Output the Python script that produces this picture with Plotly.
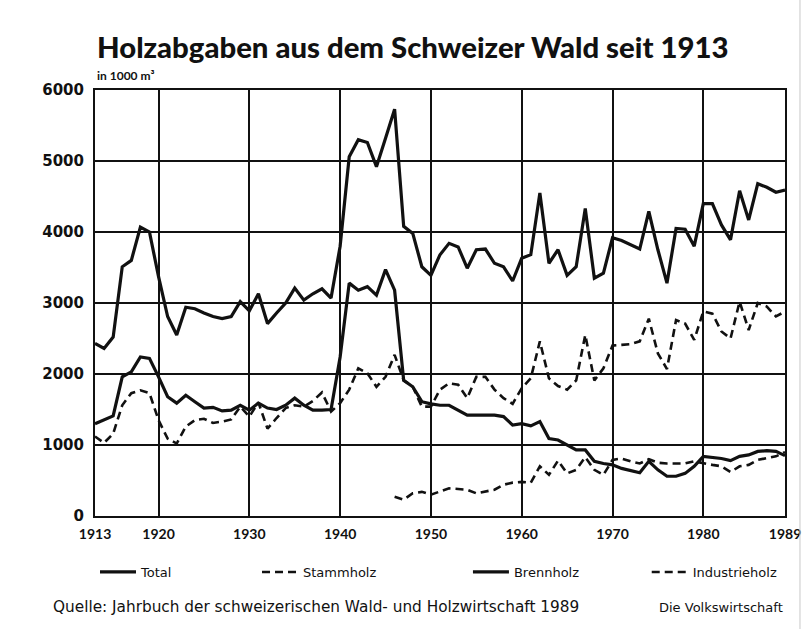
import plotly.graph_objects as go

years = list(range(1913, 1990))

total = [2430, 2360, 2520, 3510, 3600, 4070, 4000, 3370, 2810, 2550,
         2940, 2920, 2860, 2810, 2780, 2810, 3020, 2890, 3130, 2710,
         2860, 3000, 3210, 3040, 3130, 3200, 3070, 3800, 5060, 5300,
         5260, 4920, 5320, 5730, 4080, 3980, 3510, 3390, 3680, 3840,
         3790, 3490, 3750, 3760, 3560, 3510, 3310, 3630, 3680, 4550,
         3560, 3750, 3390, 3510, 4330, 3350, 3420, 3920, 3880, 3820,
         3760, 4290, 3750, 3280, 4050, 4040, 3800, 4400, 4400, 4100,
         3890, 4580, 4170, 4680, 4630, 4560, 4590]

stammholz = [1120, 1030, 1160, 1560, 1730, 1770, 1730, 1350, 1090, 1020,
             1260, 1350, 1370, 1310, 1330, 1360, 1540, 1400, 1600, 1230,
             1380, 1520, 1560, 1540, 1620, 1740, 1470, 1590, 1780, 2080,
             2010, 1820, 1960, 2270, 1910, 1820, 1540, 1540, 1780, 1870,
             1850, 1660, 1960, 1960, 1780, 1660, 1580, 1800, 1940, 2460,
             1940, 1830, 1780, 1910, 2550, 1910, 2080, 2400, 2410, 2420,
             2460, 2780, 2290, 2070, 2760, 2710, 2480, 2880, 2850, 2600,
             2500, 3020, 2620, 3000, 2950, 2810, 2880]

brennholz = [1300, 1350, 1410, 1960, 2030, 2240, 2220, 1960, 1680, 1590,
             1700, 1610, 1520, 1530, 1480, 1490, 1560, 1490, 1590, 1520,
             1500, 1560, 1660, 1560, 1490, 1490, 1500, 2240, 3280, 3180,
             3230, 3110, 3470, 3180, 1910, 1820, 1610, 1580, 1560, 1560,
             1490, 1420, 1420, 1420, 1420, 1400, 1280, 1300, 1270, 1330,
             1090, 1070, 1000, 930, 930, 770, 740, 720, 670, 640,
             610, 770, 650, 560, 560, 600, 700, 840, 830, 810,
             780, 840, 860, 910, 920, 910, 850]

industrie_years = list(range(1946, 1990))
industrieholz = [270, 230, 320, 340, 300, 340, 390, 380, 370, 320,
                 340, 370, 440, 470, 480, 470, 700, 580, 780, 600,
                 650, 830, 650, 580, 790, 810, 770, 740, 800, 750,
                 740, 740, 740, 770, 740, 720, 700, 620, 700, 720,
                 790, 810, 840, 900]

x_ticks = [1913, 1920, 1930, 1940, 1950, 1960, 1970, 1980, 1989]
y_ticks = [0, 1000, 2000, 3000, 4000, 5000, 6000]

FONT = "Lato"
WIDE = "DejaVu Sans"
INK = "#111"

fig = go.Figure()
fig.add_trace(go.Scatter(x=years, y=total, name="Total", mode="lines", legend="legend",
                         line=dict(color=INK, width=3.2)))
fig.add_trace(go.Scatter(x=years, y=stammholz, name="Stammholz", mode="lines", legend="legend2",
                         line=dict(color=INK, width=2.6, dash="8px,5px")))
fig.add_trace(go.Scatter(x=years, y=brennholz, name="Brennholz", mode="lines", legend="legend3",
                         line=dict(color=INK, width=3.2)))
fig.add_trace(go.Scatter(x=industrie_years, y=industrieholz, name="Industrieholz",
                         mode="lines", legend="legend4",
                         line=dict(color=INK, width=2.6, dash="8px,5px")))

leg_common = dict(orientation="h", y=-0.1315, yanchor="middle", xanchor="left",
                  itemwidth=36,
                  font=dict(size=13, family=WIDE, color=INK), bgcolor="rgba(0,0,0,0)")

fig.update_layout(
    width=806, height=629,
    paper_bgcolor="white", plot_bgcolor="white",
    margin=dict(l=95, r=21, t=90, b=113, autoexpand=False),
    font=dict(family=FONT, color=INK),
    showlegend=True,
    legend=dict(x=0.0, **leg_common),
    legend2=dict(x=0.2348, **leg_common),
    legend3=dict(x=0.5405, **leg_common),
    legend4=dict(x=0.7996, **leg_common),
    xaxis=dict(range=[1913, 1989], tickvals=x_ticks, ticktext=[str(v) for v in x_ticks],
               showgrid=True, gridcolor=INK, gridwidth=2,
               showline=True, linecolor=INK, linewidth=2, mirror=True,
               ticks="", zeroline=False, ticklabelstandoff=4,
               tickfont=dict(size=14, family=FONT, color=INK, weight="bold")),
    yaxis=dict(range=[0, 6000], tickvals=y_ticks,
               showgrid=True, gridcolor=INK, gridwidth=2,
               showline=True, linecolor=INK, linewidth=2, mirror=True,
               ticks="", zeroline=False, ticklabelstandoff=6,
               tickfont=dict(size=15, family=WIDE, color=INK, weight="bold")),
)

fig.add_annotation(text="Holzabgaben aus dem Schweizer Wald seit 1913",
                   xref="paper", yref="paper", x=0.0, y=1.101,
                   xanchor="left", yanchor="middle", showarrow=False,
                   font=dict(size=29.3, family=FONT, color=INK, weight=900))
fig.add_annotation(text="<b>in 1000 m³</b>",
                   xref="paper", yref="paper", x=0.0, y=1.033,
                   xanchor="left", yanchor="middle", showarrow=False,
                   font=dict(size=12, family=FONT, color=INK))
fig.add_annotation(text="Quelle: Jahrbuch der schweizerischen Wald- und Holzwirtschaft 1989",
                   xref="paper", yref="paper", x=-0.064, y=-0.214,
                   xanchor="left", yanchor="middle", showarrow=False,
                   font=dict(size=15.3, family=WIDE, color=INK))
fig.add_annotation(text="Die Volkswirtschaft",
                   xref="paper", yref="paper", x=1.0, y=-0.214,
                   xanchor="right", yanchor="middle", showarrow=False,
                   font=dict(size=13, family=WIDE, color=INK))

# faint scan edge on the right side of the page
fig.add_shape(type="line", xref="paper", yref="paper", x0=1.0217, x1=1.0217,
              y0=-0.27, y1=1.22, line=dict(color="#c8c8c8", width=1))

fig.write_html("out.html", config={"displayModeBar": False},
               post_script="document.body.style.margin='0';document.body.style.overflow='hidden';")
